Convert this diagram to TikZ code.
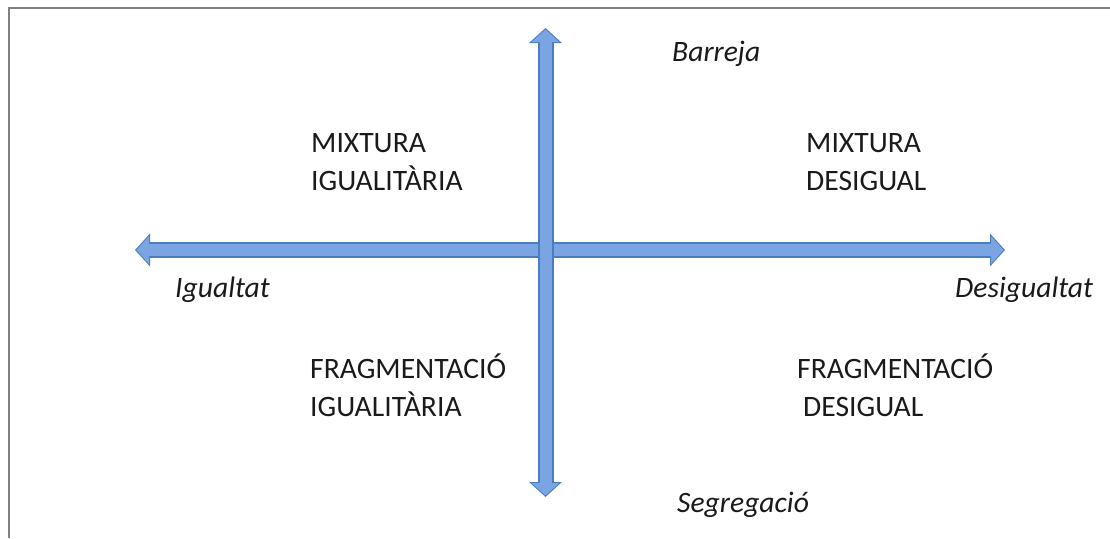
\documentclass[tikz,border=0pt]{standalone}
\usepackage{fontspec}
\setmainfont{Carlito}
\usetikzlibrary{arrows.meta}
\definecolor{axisdark}{RGB}{74,124,192}
\definecolor{axislight}{RGB}{122,164,226}
\definecolor{framegray}{RGB}{128,128,128}
\definecolor{textdark}{RGB}{26,26,26}
\tikzset{
  axisedge/.style={line width=16pt, draw=axisdark,
    {Triangle[width=32pt,length=15pt]}-{Triangle[width=32pt,length=15pt]}},
  axisfill/.style={line width=12pt, draw=axislight, shorten <=1.5pt, shorten >=1.5pt,
    {Triangle[width=27pt,length=12.5pt]}-{Triangle[width=27pt,length=12.5pt]}},
  quadlabel/.style={anchor=base west, inner sep=0pt, align=left, text=textdark,
    font=\fontsize{29.6}{37.5}\selectfont},
  polelabel/.style={anchor=base west, inner sep=0pt, text=textdark,
    font=\fontsize{29.6}{37.5}\selectfont\itshape}
}
\begin{document}
\begin{tikzpicture}[x=1pt,y=1pt,yscale=-1]
\useasboundingbox (0,0) rectangle (1110,538);
%Shape: Frame
\draw[framegray, line width=2.2pt] (9,538) -- (9,8) -- (1110,8);
% Axis ends
\coordinate (igualtat end) at (135,250);
\coordinate (desigualtat end) at (1005,250);
\coordinate (barreja end) at (545.5,28);
\coordinate (segregacio end) at (545.5,497);
%Shape: Horizontal axis
\draw[axisedge] (igualtat end) -- (desigualtat end);
\draw[axisfill] (igualtat end) -- (desigualtat end);
%Shape: Vertical axis
\draw[axisedge] (barreja end) -- (segregacio end);
\draw[axisfill] (barreja end) -- (segregacio end);
% Text Node
\node[polelabel] (barreja) at (672,61) {Barreja};
\node[polelabel] (segregacio) at (677,512) {Segregació};
\node[polelabel] (igualtat) at (175,297) {Igualtat};
\node[polelabel] (desigualtat) at (955,297) {Desigualtat};
% Text Node (base = last line)
\node[quadlabel] (mixtura igual) at (311,190) {MIXTURA\\IGUALITÀRIA};
\node[quadlabel] (mixtura desigual) at (806,190) {MIXTURA\\DESIGUAL};
\node[quadlabel] (fragment igual) at (310,416) {FRAGMENTACIÓ\\IGUALITÀRIA};
\node[quadlabel] (fragment desigual) at (797,416) {FRAGMENTACIÓ\\\hspace*{6pt}DESIGUAL};
\end{tikzpicture}
\end{document}
